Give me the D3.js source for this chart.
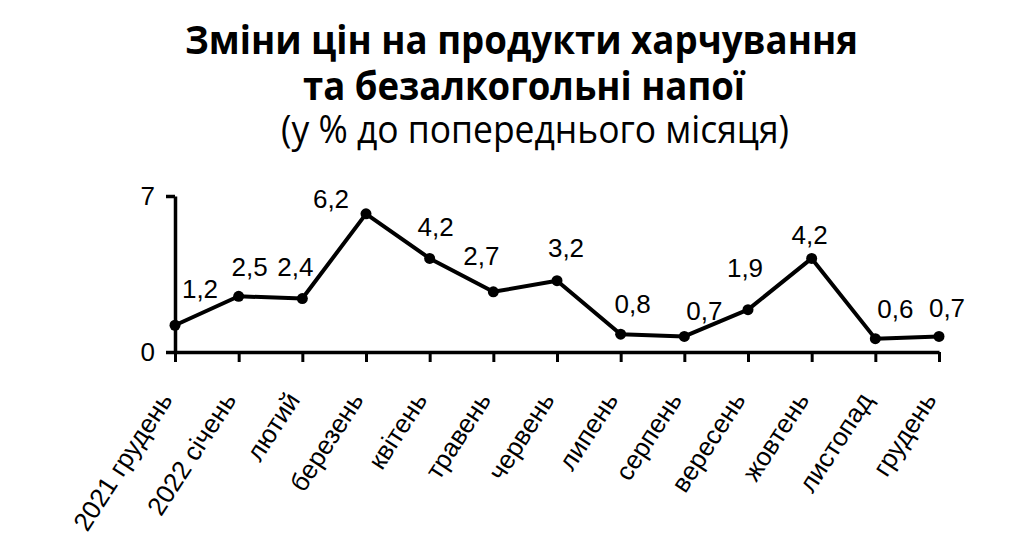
<!DOCTYPE html>
<html><head><meta charset="utf-8">
<script src="https://cdn.jsdelivr.net/npm/d3@7"></script>
<style>body{margin:0;background:#fff}</style>
</head><body>
<svg id="c" width="1024" height="547"></svg>
<script>
const categories = ["2021 грудень","2022 січень","лютий","березень","квітень","травень","червень","липень","серпень","вересень","жовтень","листопад","грудень"];
const values = [1.2,2.5,2.4,6.2,4.2,2.7,3.2,0.8,0.7,1.9,4.2,0.6,0.7];
const valueLabels = ["1,2","2,5","2,4","6,2","4,2","2,7","3,2","0,8","0,7","1,9","4,2","0,6","0,7"];
const yTicks = [0, 7];
const titleLines = ["Зміни цін на продукти харчування","та безалкогольні напої","(у % до попереднього місяця)"];

// layout (not data)
const labelOffsets = [[25,-37],[11,-30],[-7,-32],[-35,-15],[6,-32],[-12,-36],[9,-33],[12,-31],[20,-26],[-3,-42],[-2,-24],[20,-30],[8,-29]];
const titleLayout = [
  {cx:521.5, y:54, size:40, weight:"bold", width:673},
  {cx:524, y:100, size:40, weight:"bold", width:442},
  {cx:535, y:143, size:38, weight:"normal", width:508}
];

const svg = d3.select("#c");
const font = "'Liberation Sans', Arial, sans-serif";

titleLines.forEach((t,i)=>{
  const L = titleLayout[i];
  svg.append("text")
    .attr("x", L.cx).attr("y", L.y)
    .attr("text-anchor","middle")
    .attr("font-family","'Open Sans', 'Noto Sans', sans-serif")
    .attr("font-size", L.size)
    .attr("font-weight", L.weight)
    .attr("textLength", L.width)
    .attr("lengthAdjust","spacingAndGlyphs")
    .text(t);
});

const x = d3.scalePoint().domain(categories).range([175, 939]);
const y = d3.scaleLinear().domain([0, 7]).range([352, 196]);

// x axis
const gx = svg.append("g").attr("transform","translate(0,352)")
  .call(d3.axisBottom(x).tickSize(10).tickSizeOuter(0));
gx.select(".domain").attr("stroke","#000").attr("stroke-width",3.5);
gx.selectAll(".tick line").attr("stroke","#000").attr("stroke-width",3);
gx.selectAll(".tick text")
  .attr("x",0).attr("y",0).attr("dy",0)
  .attr("text-anchor","end")
  .attr("transform","translate(-2,48) rotate(-57)")
  .attr("font-family",font).attr("font-size",26).attr("fill","#000");

// y axis
const gy = svg.append("g").attr("transform","translate(175,0)")
  .call(d3.axisLeft(y).tickValues(yTicks).tickSize(9).tickSizeOuter(0).tickPadding(11).tickFormat(d3.format("d")));
gy.select(".domain").attr("stroke","#000").attr("stroke-width",3.5);
gy.selectAll(".tick line").attr("stroke","#000").attr("stroke-width",3.5);
gy.selectAll(".tick text").attr("font-family",font).attr("font-size",26).attr("fill","#000");

// line
const line = d3.line().x((d,i)=>x(categories[i])).y(d=>y(d));
svg.append("path").datum(values)
  .attr("d", line).attr("fill","none").attr("stroke","#000")
  .attr("stroke-width",4).attr("stroke-linejoin","round");

svg.selectAll("circle.pt").data(values).enter().append("circle")
  .attr("class","pt")
  .attr("cx",(d,i)=>x(categories[i])).attr("cy",d=>y(d)).attr("r",5.5).attr("fill","#000");

svg.selectAll("text.vl").data(values).enter().append("text")
  .attr("class","vl")
  .attr("x",(d,i)=>x(categories[i]) + labelOffsets[i][0])
  .attr("y",(d,i)=>y(d) + labelOffsets[i][1])
  .attr("dy","0.36em")
  .attr("text-anchor","middle")
  .attr("font-family",font).attr("font-size",26).attr("fill","#000")
  .text((d,i)=>valueLabels[i]);
</script>
</body></html>
